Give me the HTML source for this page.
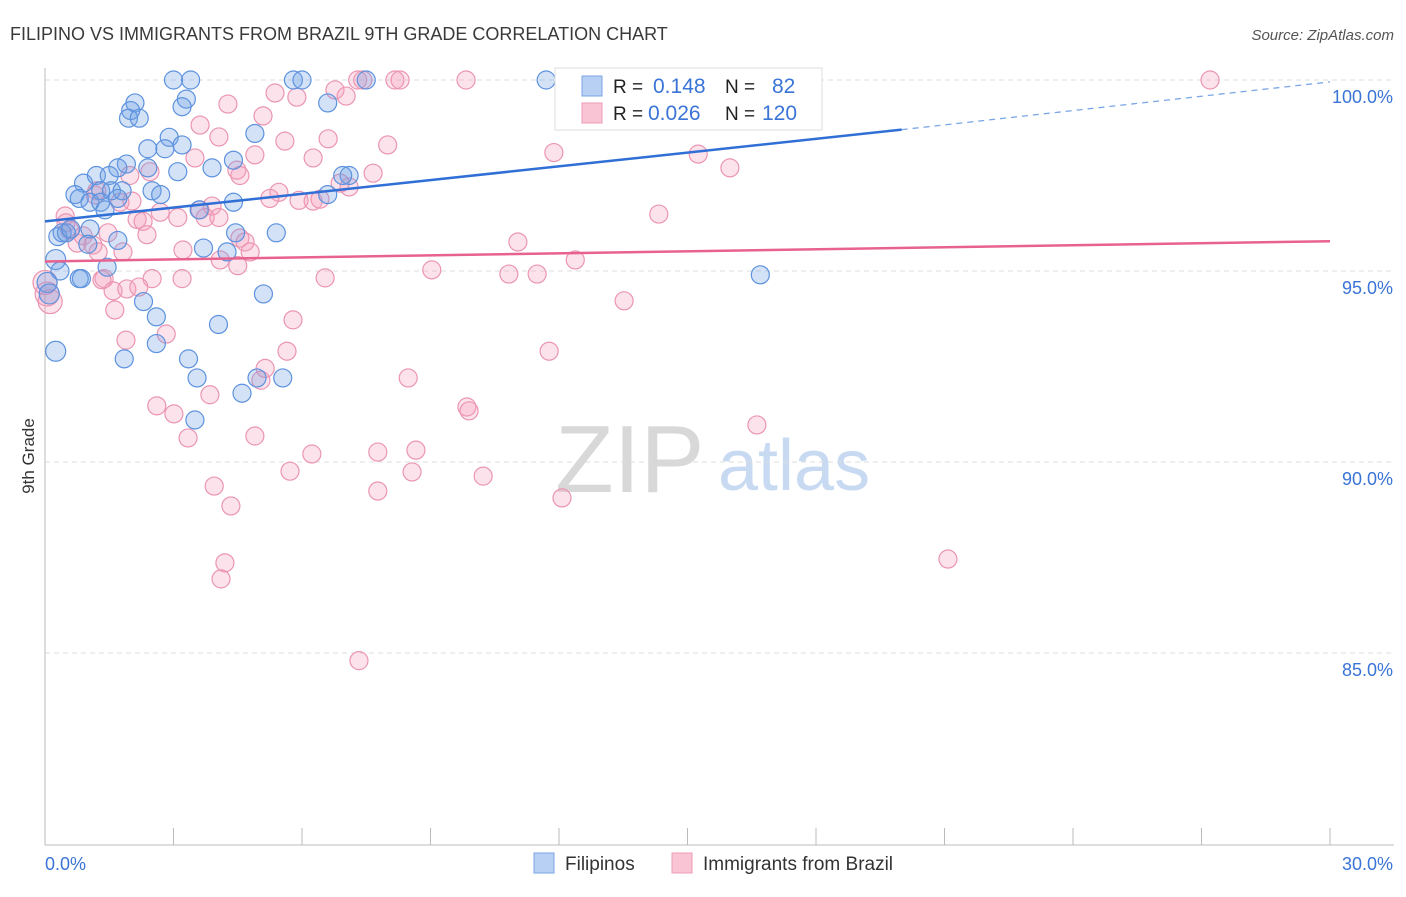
<!DOCTYPE html>
<html><head><meta charset="utf-8"><style>
body{margin:0;background:#fff;font-family:"Liberation Sans",sans-serif;}
svg text{font-family:"Liberation Sans",sans-serif;}
</style></head><body>
<svg id="chart" width="1406" height="892" xmlns="http://www.w3.org/2000/svg">
<text x="10" y="40" font-size="18" fill="#3a3a3a">FILIPINO VS IMMIGRANTS FROM BRAZIL 9TH GRADE CORRELATION CHART</text>
<text x="1394" y="40" font-size="15" fill="#555" font-style="italic" text-anchor="end">Source: ZipAtlas.com</text>
<text x="34" y="456" font-size="17" fill="#333" text-anchor="middle" transform="rotate(-90 34 456)">9th Grade</text>
<g><text x="555" y="492" font-size="96" fill="#d8d8d8" font-family="Liberation Serif,serif">ZIP</text><text x="718" y="490" font-size="72" fill="#c8daf2">atlas</text></g>
<g id="grid"></g><g id="axes"></g><g id="pts"></g><g id="lines"></g>
<g>
<rect x="555" y="68" width="267" height="62" fill="#fff" stroke="#ddd"/>
<rect x="582" y="76" width="20" height="20" fill="#b8d0f3" stroke="#7aa5e6"/>
<rect x="582" y="103" width="20" height="20" fill="#f9c4d3" stroke="#ee9cb6"/>
<text x="613" y="93" font-size="19" fill="#222">R =</text><text x="653" y="93" font-size="21" fill="#3a74d6">0.148</text>
<text x="725" y="93" font-size="19" fill="#222">N =</text><text x="772" y="93" font-size="21" fill="#3a74d6">82</text>
<text x="613" y="120" font-size="19" fill="#222">R =</text><text x="648" y="120" font-size="21" fill="#3a74d6">0.026</text>
<text x="725" y="120" font-size="19" fill="#222">N =</text><text x="762" y="120" font-size="21" fill="#3a74d6">120</text>
</g>
<g>
<rect x="534" y="853" width="20" height="20" fill="#b8d0f3" stroke="#7aa5e6"/><text x="565" y="870" font-size="19" fill="#333">Filipinos</text>
<rect x="672" y="853" width="20" height="20" fill="#f9c4d3" stroke="#ee9cb6"/><text x="703" y="870" font-size="19" fill="#333">Immigrants from Brazil</text>
</g>
</svg>
<script>
const xTicks=[0,3,6,9,12,15,18,21,24,27,30];
const yTicks=[100,95,90,85];
const yTickLabels=["100.0%","95.0%","90.0%","85.0%"];
const blueX=[3.0,3.4,5.8,6.0,11.7,7.5,2.1,2.0,1.95,2.2,3.3,3.2,6.6,4.9,2.9,2.4,2.8,3.2,1.9,1.7,0.9,1.2,1.5,0.7,0.8,1.3,1.55,1.8,1.05,1.3,1.4,1.7,2.4,2.5,2.7,3.9,4.4,3.1,4.4,6.6,7.1,6.95,3.6,0.3,0.4,0.5,0.6,1.05,1.0,1.7,0.25,1.45,0.85,0.35,0.8,0.05,0.1,2.3,2.6,2.6,4.05,3.35,1.85,3.55,4.6,5.1,3.7,4.25,5.4,4.45,5.55,4.95,3.5,0.25,16.7];
const blueY=[100,100,100,100,100,100,99.4,99.2,99.0,99.0,99.5,99.3,99.4,98.6,98.5,98.2,98.2,98.3,97.8,97.7,97.3,97.5,97.5,97.0,96.9,97.1,97.1,97.1,96.8,96.8,96.6,96.9,97.7,97.1,97.0,97.7,97.9,97.6,96.8,97.0,97.5,97.5,96.6,95.9,96.0,96.0,96.1,96.1,95.7,95.8,95.3,95.1,94.8,95.0,94.8,94.7,94.4,94.2,93.8,93.1,93.6,92.7,92.7,92.2,91.8,94.4,95.6,95.5,96.0,96.0,92.2,92.2,91.1,92.9,94.9];
const pinkX=[27.2,9.83,8.17,8.29,7.42,7.3,13.9,16.2,5.37,5.88,6.77,7.03,4.27,5.09,3.62,4.06,6.61,5.6,6.26,8.0,11.88,15.25,15.99,3.5,4.9,4.48,4.55,7.66,7.1,6.89,5.46,5.93,6.26,6.42,5.25,3.9,3.62,3.1,2.15,2.29,2.69,2.03,1.75,1.21,1.17,1.98,2.45,0.47,0.49,0.58,0.89,0.75,1.12,1.47,2.38,3.74,4.06,4.55,4.67,4.79,3.22,4.09,1.82,1.24,1.38,2.5,3.2,1.33,1.59,1.91,2.19,1.63,1.89,2.83,5.79,6.54,5.65,8.48,9.03,10.83,11.49,11.04,12.38,13.52,11.77,14.33,4.5,5.14,5.04,2.61,3.01,3.85,3.34,4.9,6.23,5.72,7.77,8.66,8.57,10.23,9.85,9.9,7.77,12.07,16.62,3.95,4.34,4.2,4.11,7.33,21.08,0.05,0.12,0.0];
const pinkY=[100,100,100,100,100,100,100,100,99.66,99.55,99.74,99.58,99.37,99.06,98.82,98.51,98.46,98.4,97.96,98.3,98.1,98.06,97.7,97.96,98.04,97.64,97.5,97.56,97.2,97.3,97.06,96.85,96.83,96.88,96.9,96.7,96.6,96.4,96.35,96.3,96.54,96.83,96.8,97.1,96.99,97.5,97.6,96.44,96.26,96.07,95.92,95.73,95.68,96.0,95.95,96.4,96.4,95.86,95.76,95.5,95.55,95.29,95.5,95.5,94.8,94.8,94.8,94.77,94.48,94.53,94.58,93.98,93.19,93.35,93.72,94.82,92.9,92.2,95.03,94.92,94.92,95.76,95.29,94.22,92.9,96.49,95.14,92.45,92.14,91.47,91.26,91.76,90.63,90.68,90.21,89.76,90.26,90.31,89.74,89.63,91.44,91.34,89.24,89.06,90.97,89.37,88.85,87.36,86.94,84.8,87.46,94.4,94.2,94.7];
const blueTrend=[96.3,98.7,99.95]; // at x=0,20,30
const pinkTrend=[95.25,95.78]; // at x=0,30
const NS="http://www.w3.org/2000/svg";
const sx=v=>45+v*1285/30, sy=v=>80+(100-v)*38.2;
function mk(tag,attrs,parent){const e=document.createElementNS(NS,tag);for(const k in attrs)e.setAttribute(k,attrs[k]);parent.appendChild(e);return e;}
const grid=document.getElementById('grid'),axes=document.getElementById('axes'),pts=document.getElementById('pts'),lines=document.getElementById('lines');
yTicks.forEach((t,i)=>{
 const l=mk('line',{x1:45,x2:1394,y1:sy(t),y2:sy(t),stroke:'#ddd','stroke-dasharray':'5,4'},grid);
 
 
 const tx=mk('text',{x:1393,y:sy(t)+23,'text-anchor':'end','font-size':18,fill:'#3a74d6'},axes);
 tx.textContent=yTickLabels[i];
 
 
});
const ax=mk('line',{x1:45,x2:45,y1:68,y2:845,stroke:'#bbb'},axes);


const bx=mk('line',{x1:45,x2:1394,y1:845,y2:845,stroke:'#bbb'},axes);


xTicks.forEach(t=>{if(t===0)return;
 const l=mk('line',{x1:sx(t),x2:sx(t),y1:828,y2:845,stroke:'#bbb'},axes);
 
 
});
const x0=mk('text',{x:45,y:870,'font-size':18,fill:'#3a74d6'},axes);x0.textContent='0.0%';


const x1=mk('text',{x:1393,y:870,'font-size':18,fill:'#3a74d6','text-anchor':'end'},axes);x1.textContent='30.0%';


pinkX.forEach((x,i)=>{const c=mk('circle',{cx:sx(x),cy:sy(pinkY[i]),r:x<0.2?12:9,fill:'rgba(244,160,188,0.3)',stroke:'#eb95b2','stroke-width':1.2},pts);
 
 });
blueX.forEach((x,i)=>{const c=mk('circle',{cx:sx(x),cy:sy(blueY[i]),r:x<0.3?10:9,fill:'rgba(110,160,230,0.3)',stroke:'#5d92de','stroke-width':1.2},pts);
 
 });
const bl=mk('line',{x1:sx(0),y1:sy(blueTrend[0]),x2:sx(20),y2:sy(blueTrend[1]),stroke:'#2f6fd6','stroke-width':2.5},lines);


const bd=mk('line',{x1:sx(20),y1:sy(blueTrend[1]),x2:sx(30),y2:sy(blueTrend[2]),stroke:'#7aa5e6','stroke-width':1.3,'stroke-dasharray':'6,5'},lines);


const pl=mk('line',{x1:sx(0),y1:sy(pinkTrend[0]),x2:sx(30),y2:sy(pinkTrend[1]),stroke:'#e8628f','stroke-width':2.5},lines);


</script>
</body></html>
